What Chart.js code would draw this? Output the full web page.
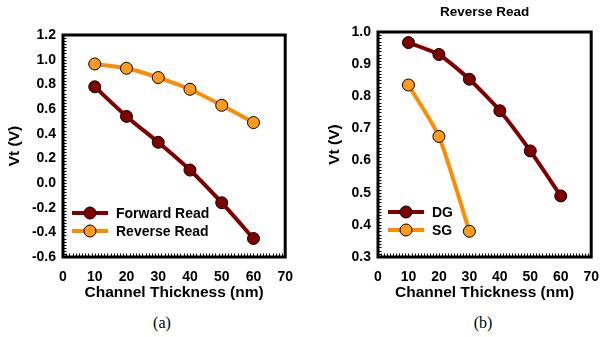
<!DOCTYPE html>
<html>
<head>
<meta charset="utf-8">
<script src="https://cdn.jsdelivr.net/npm/chart.js@4.4.1/dist/chart.umd.min.js"></script>
<style>
  html, body { margin: 0; padding: 0; background: #fff; }
  body { width: 611px; height: 337px; position: relative; overflow: hidden; }
  .panel { position: absolute; top: 0; width: 305px; height: 310px; }
  .tag { position: absolute; top: 314px; font: 16px "Liberation Serif", "Times New Roman", serif; color: #000; transform: translateX(-50%); }
</style>
</head>
<body>
<div class="panel" style="left:0"><canvas id="chartA" width="305" height="310"></canvas></div>
<div class="panel" style="left:306px"><canvas id="chartB" width="305" height="310"></canvas></div>
<div class="tag" style="left:162px">(a)</div>
<div class="tag" style="left:483px">(b)</div>
<script>
// Channel thickness (nm) and threshold voltage (V)
const thickness = [10, 20, 30, 40, 50, 60];
const forwardRead = [0.78, 0.54, 0.33, 0.105, -0.16, -0.45];
const reverseRead = [0.965, 0.93, 0.855, 0.76, 0.63, 0.49];

const dgThickness = [10, 20, 30, 40, 50, 60];
const dgReverse = [0.967, 0.93, 0.853, 0.755, 0.63, 0.49];
const sgThickness = [10, 20, 30];
const sgReverse = [0.835, 0.675, 0.38];

const xTicks = [0, 10, 20, 30, 40, 50, 60, 70];
const yTicksA = [-0.6, -0.4, -0.2, 0.0, 0.2, 0.4, 0.6, 0.8, 1.0, 1.2];
const yTicksB = [0.3, 0.4, 0.5, 0.6, 0.7, 0.8, 0.9, 1.0];

const DARK_RED = '#800000';
const ORANGE_LINE = '#FF8C00';
const ORANGE_FILL = '#FF9A1A';
const FONT = '"Liberation Sans", Arial, sans-serif';

const toPoints = (xs, ys) => xs.map((x, i) => ({ x, y: ys[i] }));

function series(label, xs, ys, line, fill) {
  return {
    label,
    data: toPoints(xs, ys),
    showLine: true,
    borderColor: line,
    borderWidth: 4,
    tension: 0.2,
    pointRadius: 6,
    pointHoverRadius: 6,
    pointBackgroundColor: fill,
    pointBorderColor: '#000',
    pointBorderWidth: 1
  };
}

// Frame, inward minor ticks, panel heading and an in-plot legend
const framePlugin = {
  id: 'frame',
  afterDatasetsDraw(chart, args, opts) {
    const { ctx, chartArea: a, scales } = chart;
    ctx.save();
    // minor ticks on the left and bottom edges
    ctx.strokeStyle = '#000';
    ctx.lineWidth = 1;
    const ys = scales.y, xs = scales.x;
    const nY = Math.round((ys.max - ys.min) / opts.yMinor);
    for (let i = 0; i <= nY; i++) {
      const py = Math.round(ys.getPixelForValue(ys.min + i * opts.yMinor)) + 0.5;
      ctx.beginPath(); ctx.moveTo(a.left, py); ctx.lineTo(a.left + 3.5, py); ctx.stroke();
    }
    const nX = Math.round((xs.max - xs.min) / opts.xMinor);
    for (let i = 0; i <= nX; i++) {
      const px = Math.round(xs.getPixelForValue(xs.min + i * opts.xMinor)) + 0.5;
      ctx.beginPath(); ctx.moveTo(px, a.bottom); ctx.lineTo(px, a.bottom - 3.5); ctx.stroke();
    }
    // plot frame
    ctx.lineWidth = 3;
    ctx.strokeRect(a.left, a.top, a.right - a.left, a.bottom - a.top);
    // heading centred over the plot
    if (opts.heading) {
      ctx.fillStyle = '#000';
      ctx.font = 'bold 13.5px ' + FONT;
      ctx.textAlign = 'center';
      ctx.textBaseline = 'middle';
      ctx.fillText(opts.heading, (a.left + a.right) / 2, 12);
    }
    // legend
    ctx.font = 'bold 14px ' + FONT;
    ctx.textBaseline = 'middle';
    ctx.textAlign = 'left';
    chart.data.datasets.forEach((ds, i) => {
      const y = a.bottom - opts.legendBottom + i * 18;
      const x0 = a.left + opts.legendLeft;
      ctx.strokeStyle = ds.borderColor;
      ctx.lineWidth = 4;
      ctx.beginPath(); ctx.moveTo(x0, y); ctx.lineTo(x0 + 36, y); ctx.stroke();
      ctx.beginPath(); ctx.arc(x0 + 18, y, 6, 0, Math.PI * 2);
      ctx.fillStyle = ds.pointBackgroundColor; ctx.fill();
      ctx.lineWidth = 1; ctx.strokeStyle = '#000'; ctx.stroke();
      ctx.fillStyle = '#000';
      ctx.fillText(ds.label, x0 + 44, y + 1);
    });
    ctx.restore();
  }
};

function makeOptions(cfg) {
  return {
    responsive: false,
    animation: false,
    events: [],
    layout: { autoPadding: false, padding: { top: cfg.padTop, right: cfg.padRight, left: 0, bottom: 0 } },
    plugins: {
      legend: { display: false },
      tooltip: { enabled: false },
      title: { display: false },
      frame: {
        yMinor: cfg.yMinor, xMinor: 1, heading: cfg.heading,
        legendLeft: cfg.legendLeft, legendBottom: cfg.legendBottom
      }
    },
    scales: {
      x: {
        type: 'linear',
        min: 0, max: 70,
        afterBuildTicks: s => { s.ticks = xTicks.map(v => ({ value: v })); },
        afterFit: s => { s.height = 53; },
        grid: { display: false, drawTicks: false },
        border: { display: false },
        ticks: { color: '#000', padding: 12, font: { family: FONT, size: 14, weight: 'bold' } },
        title: {
          display: true, text: 'Channel Thickness (nm)', color: '#000',
          padding: { top: 0, bottom: 7.7 },
          font: { family: FONT, size: 15.5, weight: 'bold' }
        }
      },
      y: {
        type: 'linear',
        min: cfg.yMin, max: cfg.yMax,
        afterBuildTicks: s => { s.ticks = cfg.yTicks.map(v => ({ value: v })); },
        afterFit: s => { s.width = cfg.yWidth; },
        grid: { display: false, drawTicks: false },
        border: { display: false },
        ticks: {
          color: '#000', padding: 7,
          font: { family: FONT, size: 14, weight: 'bold' },
          callback: v => Number(v).toFixed(1)
        },
        title: {
          display: true, text: 'Vt (V)', color: '#000',
          padding: { top: cfg.yTitlePad, bottom: 0 },
          font: { family: FONT, size: 15.5, weight: 'bold' }
        }
      }
    }
  };
}

new Chart(document.getElementById('chartA'), {
  type: 'scatter',
  data: {
    datasets: [
      series('Forward Read', thickness, forwardRead, DARK_RED, DARK_RED),
      series('Reverse Read', thickness, reverseRead, ORANGE_LINE, ORANGE_FILL)
    ]
  },
  options: makeOptions({
    padTop: 35, padRight: 18, yMin: -0.6, yMax: 1.2, yTicks: yTicksA,
    yWidth: 63, yTitlePad: 5.7, yMinor: 0.025, legendLeft: 9, legendBottom: 44
  }),
  plugins: [framePlugin]
});

new Chart(document.getElementById('chartB'), {
  type: 'scatter',
  data: {
    datasets: [
      series('DG', dgThickness, dgReverse, DARK_RED, DARK_RED),
      series('SG', sgThickness, sgReverse, ORANGE_LINE, ORANGE_FILL)
    ]
  },
  options: makeOptions({
    heading: 'Reverse Read',
    padTop: 32, padRight: 8, yMin: 0.3, yMax: 1.0, yTicks: yTicksB,
    yWidth: 72, yTitlePad: 19.7, yMinor: 0.01, legendLeft: 10, legendBottom: 45
  }),
  plugins: [framePlugin]
});
</script>
</body>
</html>
